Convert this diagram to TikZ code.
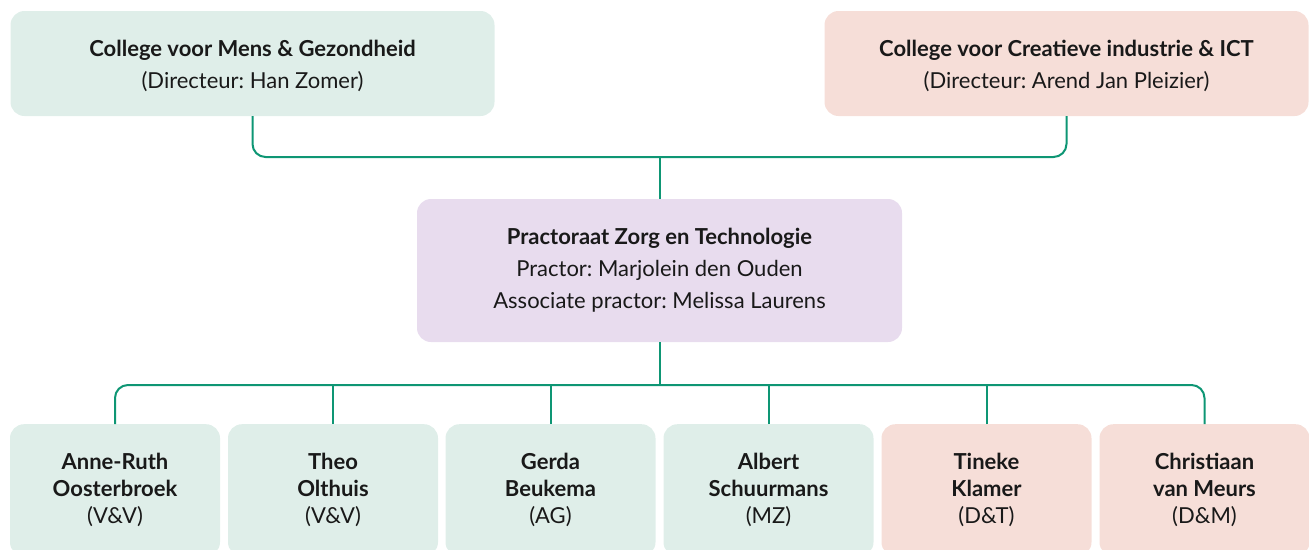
\documentclass[tikz,border=0pt]{standalone}
\usepackage{fontspec}
\setmainfont{Lato}
\usetikzlibrary{calc}
\definecolor{mgfill}{RGB}{223,238,233}
\definecolor{cifill}{RGB}{246,222,216}
\definecolor{przfill}{RGB}{232,220,238}
\definecolor{linkgreen}{RGB}{14,150,116}
\frenchspacing
\tikzset{
 box/.style={rectangle, rounded corners=14, inner sep=0, align=center, font=\fontsize{22}{32}\selectfont, text=black!90},
 topbox/.style={box, minimum width=484, minimum height=105},
 lidbox/.style={box, anchor=north, minimum width=210, minimum height=132, font=\fontsize{22}{27}\selectfont},
 link/.style={linkgreen, line width=2pt, rounded corners=13},
}
\begin{document}
\begin{tikzpicture}[x=1pt,y=-1pt]
\useasboundingbox (0,0) rectangle (1309,549);
% colleges
\node[topbox, fill=mgfill] (mg) at (252.5,63.5) {\rule{0pt}{22pt}\textbf{College voor Mens \& Gezondheid}\\(Directeur: Han Zomer)};
\node[topbox, fill=cifill] (ci) at (1066.5,63.5) {\rule{0pt}{22pt}\textbf{College voor Creatieve industrie \& ICT}\\(Directeur: Arend Jan Pleizier)};
% practoraat
\node[box, fill=przfill, minimum width=485, minimum height=143] (pzt) at (659.5,270.5) {\textbf{Practoraat Zorg en Technologie}\\Practor: Marjolein den Ouden\\Associate practor: Melissa Laurens};
% leden
\foreach \x/\n/\col/\txt in {115/1/mgfill/{\textbf{Anne-Ruth}\\\textbf{Oosterbroek}\\(V\&V)},
 333/2/mgfill/{\textbf{Theo}\\\textbf{Olthuis}\\(V\&V)},
 550.5/3/mgfill/{\textbf{Gerda}\\\textbf{Beukema}\\(AG)},
 768.5/4/mgfill/{\textbf{Albert}\\\textbf{Schuurmans}\\(MZ)},
 986.5/5/cifill/{\textbf{Tineke}\\\textbf{Klamer}\\(D\&T)},
 1204.5/6/cifill/{\textbf{Christiaan}\\\textbf{van Meurs}\\(D\&M)}} {
 \node[lidbox, fill=\col] (b\n) at (\x,424) {\txt};
}
% lijnen
\coordinate (jt) at (pzt.north |- 0,157);
\coordinate (jb) at (pzt.south |- 0,385);
\draw[link] (mg.south) |- (jt) -| (ci.south);
\draw[link] (jt) -- (pzt.north);
\draw[link] (pzt.south) -- (jb);
\draw[link] (b1.north) |- (jb) -| (b6.north);
\foreach \n in {2,...,5} {
 \draw[link] (b\n.north) -- (b\n.north |- jb);
}
\end{tikzpicture}
\end{document}
